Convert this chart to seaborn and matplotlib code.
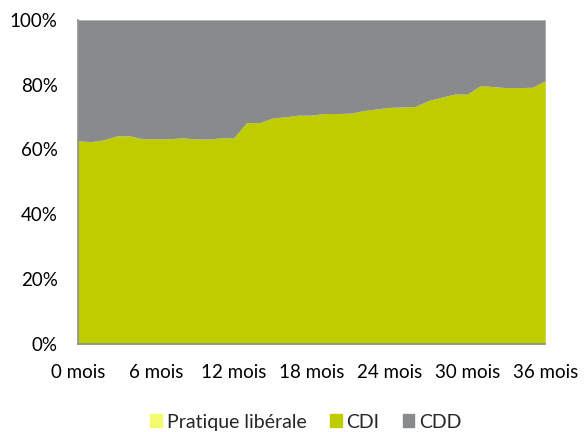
import numpy as np
import matplotlib
matplotlib.use("Agg")
import matplotlib.pyplot as plt
import matplotlib.patches as mpatches
import seaborn as sns
from matplotlib.ticker import PercentFormatter

months = list(range(37))
tick_months = [0, 6, 12, 18, 24, 30, 36]
tick_labels = ["0 mois", "6 mois", "12 mois", "18 mois", "24 mois", "30 mois", "36 mois"]

liberale = [0.0] * 37
cdi = [62.7, 62.4, 63.0, 64.2, 64.2, 63.3, 63.3, 63.3, 63.6, 63.3,
       63.2, 63.6, 63.6, 68.3, 68.3, 69.7, 70.1, 70.6, 70.6, 71.1,
       71.1, 71.2, 72.0, 72.5, 73.0, 73.1, 73.3, 75.1, 76.1, 77.1,
       77.1, 79.7, 79.4, 79.1, 79.1, 79.2, 81.2]
cdd = [100 - l - c for l, c in zip(liberale, cdi)]

series_names = ["Pratique libérale", "CDI", "CDD"]
COLORS = ["#F2FA6E", "#BFCC00", "#888A8C"]

sns.set_style("white")
plt.rcParams["font.family"] = ["Lato", "DejaVu Sans"]

fig = plt.figure(figsize=(5.85, 4.32), dpi=100)
ax = fig.add_axes([0.133, 0.204, 0.799, 0.750])

ax.stackplot(months, liberale, cdi, cdd, colors=COLORS, linewidth=0)

ax.set_xlim(0, 36)
ax.set_ylim(0, 100)
ax.set_yticks([0, 20, 40, 60, 80, 100])
ax.yaxis.set_major_formatter(PercentFormatter(decimals=0))
ax.set_xticks(tick_months)
ax.set_xticklabels(tick_labels)

for side in ["top", "right"]:
    ax.spines[side].set_visible(False)
for side in ["left", "bottom"]:
    ax.spines[side].set_color("#8C8C8C")
    ax.spines[side].set_linewidth(1.2)

ax.tick_params(axis="both", which="major", direction="out", length=5.5, width=1.2,
               color="#8C8C8C", labelsize=13.5, labelcolor="black")
ax.tick_params(axis="x", pad=9)
ax.tick_params(axis="y", pad=9)

handles = [mpatches.Patch(color=c, label=n) for c, n in zip(COLORS, series_names)]
fig.legend(handles=handles, loc="center", bbox_to_anchor=(0.523, 0.023), ncol=3,
           frameon=False, fontsize=14, handlelength=0.6, handleheight=0.65,
           handletextpad=0.25, columnspacing=1.2, borderpad=0.2)

fig.savefig("out.png", dpi=100)
